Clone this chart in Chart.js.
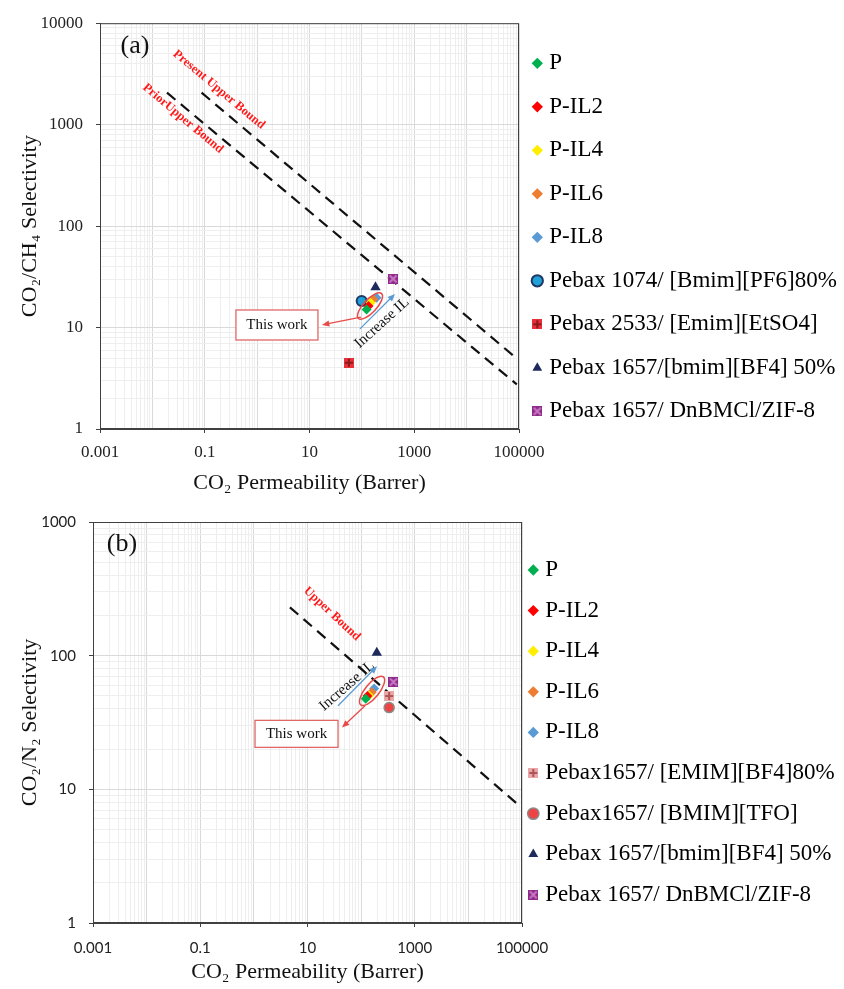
<!DOCTYPE html>
<html>
<head>
<meta charset="utf-8">
<script src="https://cdn.jsdelivr.net/npm/chart.js@4.4.1/dist/chart.umd.min.js"></script>
<style>
  body { margin: 0; background: #fff; }
  canvas { display: block; }
</style>
</head>
<body>
<canvas id="chartA" width="844" height="500"></canvas>
<canvas id="chartB" width="844" height="489"></canvas>
<script>
// ---- data ----
// (a) CO2/CH4
const seriesA = ['P', 'P-IL2', 'P-IL4', 'P-IL6', 'P-IL8',
  'Pebax 1074/ [Bmim][PF6]80%', 'Pebax 2533/ [Emim][EtSO4]',
  'Pebax 1657/[bmim][BF4] 50%', 'Pebax 1657/ DnBMCl/ZIF-8'];
const permA = [123, 134, 147, 164, 191, 99, 56.5, 182, 396];
const selA = [15.1, 16.3, 17.6, 19.0, 19.7, 18.3, 4.5, 25, 30.2];
const priorBoundPermA = [0.019, 90800];
const priorBoundSelA = [2066, 2.75];
const presentBoundPermA = [0.087, 90800];
const presentBoundSelA = [2066, 4.95];

// (b) CO2/N2
const seriesB = ['P', 'P-IL2', 'P-IL4', 'P-IL6', 'P-IL8',
  'Pebax1657/ [EMIM][BF4]80%', 'Pebax1657/ [BMIM][TFO]',
  'Pebax 1657/[bmim][BF4] 50%', 'Pebax 1657/ DnBMCl/ZIF-8'];
const permB = [122, 131, 141, 158, 175, 333, 333, 196, 401];
const selB = [47.6, 49.9, 50.4, 53.3, 56.7, 49.9, 40.9, 105, 63.6];
const boundPermB = [4.7, 81000];
const boundSelB = [230, 7.8];

// tick labels
const xTickValues = [0.001, 0.1, 10, 1000, 100000];
const xTickLabels = ['0.001', '0.1', '10', '1000', '100000'];
const yTickValuesA = [1, 10, 100, 1000, 10000];
const yTickLabelsA = ['1', '10', '100', '1000', '10000'];
const yTickValuesB = [1, 10, 100, 1000];
const yTickLabelsB = ['1', '10', '100', '1000'];

const SERIF = '"Liberation Serif", "Times New Roman", serif';
const SANS = 'Lato, "Liberation Sans", sans-serif';

// square markers with a plus or an x on them
function squareMark(fill, line, kind) {
  var c = document.createElement('canvas');
  c.width = 10; c.height = 10;
  var g = c.getContext('2d');
  g.fillStyle = fill;
  g.fillRect(0, 0, 10, 10);
  g.strokeStyle = line;
  g.lineWidth = 2;
  g.beginPath();
  if (kind == 'plus') {
    g.moveTo(5, 1); g.lineTo(5, 9); g.moveTo(1, 5); g.lineTo(9, 5);
  } else {
    g.moveTo(1.5, 1.5); g.lineTo(8.5, 8.5); g.moveTo(8.5, 1.5); g.lineTo(1.5, 8.5);
  }
  g.stroke();
  return c;
}

const diamond = c => ({pointStyle: 'rectRot', bg: c, border: c, bw: 0, r: 5});
const stylesA = [
  diamond('#00b050'), diamond('#ff0000'), diamond('#ffee00'), diamond('#ed7d31'), diamond('#5b9bd5'),
  {pointStyle: 'circle', bg: '#22a0d8', border: '#1f3864', bw: 2, r: 5},
  {pointStyle: squareMark('#e8303a', '#8b1a1a', 'plus'), bg: '#e8303a', border: '#e8303a', bw: 0, r: 5},
  {pointStyle: 'triangle', bg: '#1f2a5c', border: '#1f2a5c', bw: 0, r: 6},
  {pointStyle: squareMark('#8e2a8a', '#c878c4', 'x'), bg: '#8e2a8a', border: '#8e2a8a', bw: 0, r: 5}
];
const stylesB = [
  diamond('#00b050'), diamond('#ff0000'), diamond('#ffee00'), diamond('#ed7d31'), diamond('#5b9bd5'),
  {pointStyle: squareMark('#e9a7a7', '#b05555', 'plus'), bg: '#e9a7a7', border: '#e9a7a7', bw: 0, r: 5},
  {pointStyle: 'circle', bg: '#ee4444', border: '#8a8a8a', bw: 1.5, r: 5},
  {pointStyle: 'triangle', bg: '#1f2a5c', border: '#1f2a5c', bw: 0, r: 6},
  {pointStyle: squareMark('#8e2a8a', '#c878c4', 'x'), bg: '#8e2a8a', border: '#8e2a8a', bw: 0, r: 5}
];

// gridline positions: 1..9 x 10^n
function logGrid(minExp, maxExp) {
  var out = [];
  for (var e = minExp; e < maxExp; e++)
    for (var m = 1; m < 10; m++) out.push(+(m * Math.pow(10, e)).toPrecision(3));
  out.push(Math.pow(10, maxExp));
  return out;
}
function isDecade(v) { return Math.abs(Math.log10(v) - Math.round(Math.log10(v))) < 1e-6; }
function labelFor(values, labels) {
  return function (v) {
    var i = values.findIndex(t => Math.abs(Math.log10(t) - Math.log10(v)) < 1e-6);
    return i < 0 ? '' : labels[i];
  };
}
function hasLabel(values, v) {
  return values.some(t => Math.abs(Math.log10(t) - Math.log10(v)) < 1e-6);
}

// move the legend a bit (chart.js ties its x to the padding)
const legendShift = {
  id: 'legendShift',
  afterLayout(chart, args, o) {
    var lg = chart.legend;
    lg.left += o.dx;
    lg.top += o.dy;
    lg.bottom += o.dy;
  }
};

function arrow(ctx, x1, y1, x2, y2, color) {
  var a = Math.atan2(y2 - y1, x2 - x1);
  ctx.strokeStyle = color; ctx.fillStyle = color; ctx.lineWidth = 1.3;
  ctx.beginPath();
  ctx.moveTo(x1, y1);
  ctx.lineTo(x2 - 5 * Math.cos(a), y2 - 5 * Math.sin(a));
  ctx.stroke();
  ctx.beginPath();
  ctx.moveTo(x2, y2);
  ctx.lineTo(x2 - 8 * Math.cos(a - 0.4), y2 - 8 * Math.sin(a - 0.4));
  ctx.lineTo(x2 - 8 * Math.cos(a + 0.4), y2 - 8 * Math.sin(a + 0.4));
  ctx.closePath();
  ctx.fill();
}

// frame, panel letter, bound labels, "This work" callout, "Increase IL" arrow
const callouts = {
  id: 'callouts',
  afterDatasetsDraw(chart, args, o) {
    var ctx = chart.ctx, a = chart.chartArea;
    var X = v => chart.scales.x.getPixelForValue(v);
    var Y = v => chart.scales.y.getPixelForValue(v);
    ctx.save();
    ctx.strokeStyle = '#404040'; ctx.lineWidth = 1;
    ctx.strokeRect(a.left + 0.5, a.top + 0.5, a.width - 1, a.height - 1);

    ctx.textAlign = 'center'; ctx.textBaseline = 'middle';
    ctx.fillStyle = '#111';
    ctx.font = '26px ' + SERIF;
    ctx.fillText(o.panel, a.left + o.panelAt[0], a.top + o.panelAt[1]);

    o.texts.forEach(function (t) {
      ctx.save();
      ctx.translate(X(t.x), Y(t.y));
      ctx.rotate(t.angle * Math.PI / 180);
      ctx.fillStyle = t.color;
      ctx.font = t.font;
      ctx.fillText(t.text, 0, 0);
      ctx.restore();
    });

    var e = o.ellipse;
    ctx.strokeStyle = '#e84a4a'; ctx.lineWidth = 1.5;
    ctx.beginPath();
    ctx.ellipse(X(e.x), Y(e.y), e.rx, e.ry, e.angle * Math.PI / 180, 0, Math.PI * 2);
    ctx.stroke();

    var b = o.box;
    var bx = X(b.x), by = Y(b.y);
    ctx.fillStyle = '#fff';
    ctx.fillRect(bx - b.w / 2, by - b.h / 2, b.w, b.h);
    ctx.strokeStyle = '#e06666'; ctx.lineWidth = 1.3;
    ctx.strokeRect(bx - b.w / 2, by - b.h / 2, b.w, b.h);
    ctx.fillStyle = '#111';
    ctx.font = '15px ' + SERIF;
    ctx.fillText('This work', bx, by);

    o.arrows.forEach(function (r) {
      arrow(ctx, X(r.x1), Y(r.y1), X(r.x2), Y(r.y2), r.color);
    });
    ctx.restore();
  }
};

function buildChart(id, opt) {
  var datasets = opt.series.map(function (name, i) {
    var s = opt.styles[i];
    return {
      label: name,
      data: [{x: opt.perm[i], y: opt.sel[i]}],
      pointStyle: s.pointStyle,
      backgroundColor: s.bg,
      borderColor: s.border,
      borderWidth: s.bw,
      pointRadius: s.r
    };
  });
  opt.bounds.forEach(function (bd) {
    datasets.push({
      type: 'line',
      label: 'bound',
      data: bd.perm.map((p, k) => ({x: p, y: bd.sel[k]})),
      borderColor: '#111',
      borderWidth: 2.2,
      borderDash: [11, 7],
      pointRadius: 0,
      showLine: true
    });
  });
  var n = opt.series.length;
  var gx = logGrid(-3, 5), gy = logGrid(0, opt.yExp);

  return new Chart(document.getElementById(id), {
    type: 'scatter',
    data: {datasets: datasets},
    plugins: [legendShift, callouts],
    options: {
      responsive: false,
      devicePixelRatio: 1,
      animation: false,
      events: [],
      layout: {padding: {top: opt.padTop, left: 0, right: 0, bottom: 0}},
      scales: {
        x: {
          type: 'logarithmic',
          min: 0.001, max: 100000,
          afterBuildTicks: s => { s.ticks = gx.map(v => ({value: v})); },
          afterFit: s => { s.height = opt.xAxisH; },
          border: {color: '#404040', width: 1},
          grid: {
            color: c => isDecade(c.tick.value) ? '#d9d9d9' : '#eeeeee',
            tickLength: 4,
            tickColor: c => hasLabel(xTickValues, c.tick.value) ? '#404040' : 'rgba(0,0,0,0)'
          },
          ticks: {
            autoSkip: false, maxRotation: 0, padding: opt.xTickPad,
            color: '#222', font: opt.tickFont,
            callback: labelFor(xTickValues, xTickLabels)
          },
          title: {
            display: true, text: 'CO₂ Permeability (Barrer)', color: '#111',
            font: {family: SERIF, size: 22}, padding: {top: 0, bottom: 4}
          }
        },
        y: {
          type: 'logarithmic',
          min: 1, max: Math.pow(10, opt.yExp),
          afterBuildTicks: s => { s.ticks = gy.map(v => ({value: v})); },
          afterFit: s => { s.width = opt.yAxisW; },
          border: {color: '#404040', width: 1},
          grid: {
            color: c => isDecade(c.tick.value) ? '#d9d9d9' : '#eeeeee',
            tickLength: 4,
            tickColor: c => isDecade(c.tick.value) ? '#404040' : 'rgba(0,0,0,0)'
          },
          ticks: {
            autoSkip: false, padding: 13,
            color: '#222', font: opt.tickFont,
            callback: labelFor(opt.yTickValues, opt.yTickLabels)
          },
          title: {
            display: true, text: opt.yTitle, color: '#111',
            font: {family: SERIF, size: 22}, padding: {top: 17, bottom: 0}
          }
        }
      },
      plugins: {
        tooltip: {enabled: false},
        legend: {
          position: 'right',
          maxWidth: opt.legendW,
          labels: {
            usePointStyle: true,
            boxWidth: 1, boxHeight: 8,
            padding: opt.legendPad,
            color: '#000',
            font: {family: SERIF, size: 23},
            filter: item => item.datasetIndex < n
          }
        },
        legendShift: opt.legendShift,
        callouts: opt.callouts
      }
    }
  });
}

const redBold = 'bold 12.5px ' + SERIF;
const plain = '15px ' + SERIF;

buildChart('chartA', {
  series: seriesA, perm: permA, sel: selA, styles: stylesA,
  bounds: [{perm: priorBoundPermA, sel: priorBoundSelA}, {perm: presentBoundPermA, sel: presentBoundSelA}],
  yExp: 4, yTickValues: yTickValuesA, yTickLabels: yTickLabelsA,
  yTitle: 'CO₂/CH₄ Selectivity',
  tickFont: {family: SERIF, size: 17},
  padTop: 20, xAxisH: 71, yAxisW: 100, xTickPad: 9,
  legendW: 325, legendPad: 20.5, legendShift: {dx: -2.7, dy: -22.7},
  callouts: {
    panel: '(a)', panelAt: [35, 23],
    texts: [
      {text: 'Present Upper Bound', x: 0.187, y: 2213, angle: 40, color: '#ff1a1a', font: redBold},
      {text: 'PriorUpper Bound', x: 0.0385, y: 1151, angle: 40, color: '#ff1a1a', font: redBold},
      {text: 'Increase IL', x: 242, y: 11.1, angle: -42, color: '#111', font: plain}
    ],
    ellipse: {x: 143, y: 16.3, rx: 17, ry: 6.5, angle: -47},
    box: {x: 2.39, y: 10.6, w: 82, h: 30},
    arrows: [
      {x1: 96, y1: 12.7, x2: 17.3, y2: 10.6, color: '#e84a4a'},
      {x1: 92, y1: 9.7, x2: 429, y2: 21.4, color: '#5b9bd5'}
    ]
  }
});

buildChart('chartB', {
  series: seriesB, perm: permB, sel: selB, styles: stylesB,
  bounds: [{perm: boundPermB, sel: boundSelB}],
  yExp: 3, yTickValues: yTickValuesB, yTickLabels: yTickLabelsB,
  yTitle: 'CO₂/N₂ Selectivity',
  tickFont: {family: SANS, size: 15},
  padTop: 17, xAxisH: 66, yAxisW: 93, xTickPad: 12,
  legendW: 322, legendPad: 17.6, legendShift: {dx: -6.8, dy: -20.6},
  callouts: {
    panel: '(b)', panelAt: [29, 22],
    texts: [
      {text: 'Upper Bound', x: 28.6, y: 205.6, angle: 43, color: '#ff1a1a', font: redBold},
      {text: 'Increase IL', x: 54.5, y: 59.3, angle: -41, color: '#111', font: plain}
    ],
    ellipse: {x: 160, y: 54.5, rx: 18, ry: 7, angle: -51},
    box: {x: 6.24, y: 26, w: 83, h: 27},
    arrows: [
      {x1: 118, y1: 42.2, x2: 44, y2: 29, color: '#e84a4a'},
      {x1: 37.1, y1: 42.2, x2: 198, y2: 83.4, color: '#5b9bd5'}
    ]
  }
});
</script>
</body>
</html>
